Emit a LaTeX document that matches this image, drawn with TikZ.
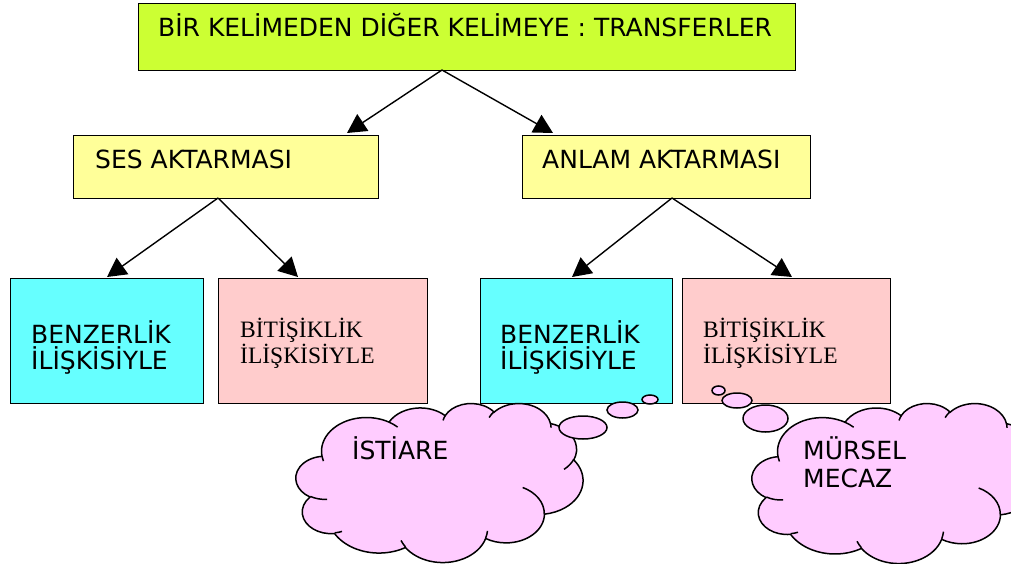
\documentclass[tikz,border=0pt]{standalone}
\usepackage{fontspec}
\setmainfont{DejaVu Sans}
\newfontfamily\tms{Liberation Serif}
\usetikzlibrary{arrows.meta}
\definecolor{topgreen}{HTML}{CCFF33}
\definecolor{sesyellow}{HTML}{FFFF99}
\definecolor{boxcyan}{HTML}{66FFFF}
\definecolor{boxpink}{HTML}{FFCCCC}
\definecolor{cloudpink}{HTML}{FFCCFF}
\newcommand\carc[4]{arc[start angle={atan2((#1)*sin(#3),(#2)*cos(#3))}, delta angle={mod(atan2((#1)*sin((#3)+(#4)),(#2)*cos((#3)+(#4)))-atan2((#1)*sin(#3),(#2)*cos(#3))+720,360)}, x radius=#1, y radius=#2]}
\newcommand\cloudshape[4]{%
\begin{scope}[shift={(#1,#2)}, x={(#3/4320*1pt,0pt)}, y={(0pt,-#4/4320*1pt)}]
\path[cloudline, fill=cloudpink] (390,1437)
 \carc{675.3}{919.0}{-190.4875}{123.7805}
 \carc{533.3}{726.7}{-144.1024}{89.9452}
 \carc{436.5}{594.5}{-145.8079}{99.7230}
 \carc{485.7}{659.5}{-130.9861}{117.2417}
 \carc{533.3}{727.3}{-78.7089}{109.0269}
 \carc{677.5}{922.0}{-46.2673}{130.2690}
 \carc{578.5}{786.7}{0.6250}{114.0333}
 \carc{675.2}{921.5}{22.4516}{115.1726}
 \carc{772.0}{1054.3}{66.2426}{75.7110}
 \carc{436.0}{591.8}{-274.9421}{146.7356}
 \carc{434.5}{594.5}{-246.8285}{152.5189} -- cycle;
\draw[cloudline]
 (469.3,2617.7) \carc{434.5}{594.5}{86.7420}{26.4295}
 (692.8,3489.9) \carc{436.0}{591.8}{73.6105}{11.4475}
 (1647.8,3909.0) \carc{675.2}{921.5}{137.6242}{14.0811}
 (2882.7,3475.1) \carc{675.2}{921.5}{6.4533}{15.9984}
 (3412.9,2295.4) \carc{578.5}{786.7}{-70.2924}{70.9174}
 (4179.8,1535.4) \carc{533.3}{727.3}{30.3180}{27.7515}
 (3832.4,542.6) \carc{485.7}{659.5}{-13.7443}{14.8589}
 (2907.8,395.2) \carc{485.7}{659.5}{-149.1815}{18.1954}
 (2214.1,472.0) \carc{436.5}{594.5}{-163.4943}{17.6864}
 (1400.0,519.2) \carc{675.3}{919.0}{-66.7070}{12.3194}
 (412.7,1578.9) \carc{675.3}{919.0}{157.6544}{11.8582};
\end{scope}}
\tikzset{
  box/.style={draw=black, line width=1.3pt, rectangle, inner sep=0pt, anchor=north west},
  lbl/.style={inner sep=0pt, anchor=base west, font=\fontsize{25}{27}\selectfont},
  slbl/.style={inner sep=0pt, anchor=base west, font=\tms\fontsize{23.5}{25}\selectfont},
  arr/.style={line width=1.4pt, -{Triangle[length=19pt,width=20pt]}},
  cloudline/.style={draw=black, line width=1.5pt},
  bubble/.style={cloudline, fill=cloudpink}
}
\begin{document}
\begin{tikzpicture}[x=1pt,y=-1pt]
\useasboundingbox (0,0) rectangle (1011,564);
\clip (0,0) rectangle (1011,564);
% boxes
\node[box, fill=topgreen, minimum width=657pt, minimum height=67pt] (top) at (138,3) {};
\node[box, fill=sesyellow, minimum width=305pt, minimum height=63pt] (ses) at (73,135) {};
\node[box, fill=sesyellow, minimum width=288pt, minimum height=63pt] (anlam) at (522,135) {};
\node[box, fill=boxcyan, minimum width=193pt, minimum height=125pt] (benz1) at (10,278) {};
\node[box, fill=boxpink, minimum width=209pt, minimum height=125pt] (biti1) at (218,278) {};
\node[box, fill=boxcyan, minimum width=192pt, minimum height=125pt] (benz2) at (480,278) {};
\node[box, fill=boxpink, minimum width=208pt, minimum height=125pt] (biti2) at (682,278) {};
% texts
\node[lbl] (toptext) at (158,37) {BİR KELİMEDEN DİĞER KELİMEYE : TRANSFERLER};
\node[lbl] (sestext) at (95,169) {SES AKTARMASI};
\node[lbl] (anlamtext) at (542,169) {ANLAM AKTARMASI};
\node[lbl] (b1a) at (31,343) {BENZERLİK};
\node[lbl] (b1b) at (31,369) {İLİŞKİSİYLE};
\node[lbl] (b2a) at (500,343) {BENZERLİK};
\node[lbl] (b2b) at (500,369) {İLİŞKİSİYLE};
\node[slbl] (t1a) at (240,337.5) {BİTİŞİKLİK};
\node[slbl] (t1b) at (240,363.5) {İLİŞKİSİYLE};
\node[slbl] (t2a) at (703,337.5) {BİTİŞİKLİK};
\node[slbl] (t2b) at (703,363.5) {İLİŞKİSİYLE};
% connectors
\coordinate (topout) at (442,70);
\coordinate (sesin) at (347,133);
\coordinate (anlamin) at (553,133);
\coordinate (sesout) at (218,198);
\coordinate (b1in) at (107,277);
\coordinate (t1in) at (298,277);
\coordinate (anlamout) at (672,198);
\coordinate (b2in) at (572,277);
\coordinate (t2in) at (792,277);
\draw[arr] (topout) -- (sesin);
\draw[arr] (topout) -- (anlamin);
\draw[arr] (sesout) -- (b1in);
\draw[arr] (sesout) -- (t1in);
\draw[arr] (anlamout) -- (b2in);
\draw[arr] (anlamout) -- (t2in);
% clouds
\cloudshape{296}{403}{287}{159}
\draw[bubble] (583,427.5) ellipse[x radius=24, y radius=11.5];
\draw[bubble] (622.5,410) ellipse[x radius=15.5, y radius=8];
\draw[bubble] (650,399.5) ellipse[x radius=8, y radius=4.5];
\cloudshape{752}{403}{287}{160}
\draw[bubble] (718.5,390.5) ellipse[x radius=6.5, y radius=4.5];
\draw[bubble] (737,400.5) ellipse[x radius=15, y radius=7.5];
\draw[bubble] (765.5,418.5) ellipse[x radius=22.5, y radius=13.5];
\node[lbl] (istiare) at (352,459) {İSTİARE};
\node[lbl] (mursel) at (803,459) {MÜRSEL};
\node[lbl] (mecaz) at (803,487) {MECAZ};
\end{tikzpicture}
\end{document}
